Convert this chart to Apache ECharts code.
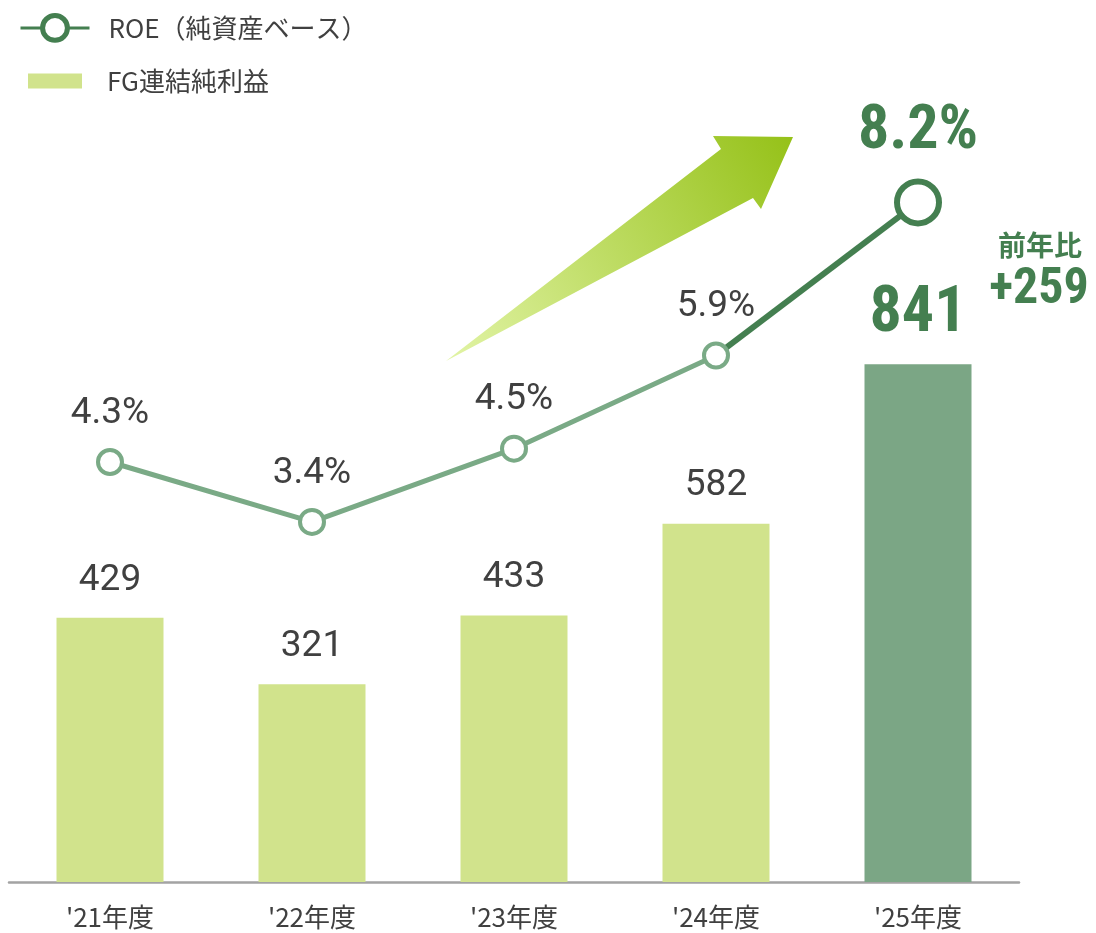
<!DOCTYPE html>
<html>
<head>
<meta charset="utf-8">
<script src="https://cdn.jsdelivr.net/npm/echarts@6/dist/echarts.min.js"></script>
<style>
  html, body { margin: 0; padding: 0; background: #fff; }
  #main { width: 1096px; height: 933px; }
</style>
</head>
<body>
<div id="main"></div>
<script>
let years = ["'21年度", "'22年度", "'23年度", "'24年度", "'25年度"];
let net_income = [429, 321, 433, 582, 841];
let roe = [4.3, 3.4, 4.5, 5.9, 8.2];

let light_bar = '#d1e38c';
let dark_bar = '#7ba685';
let light_line = '#7aaa86';
let dark_line = '#447f50';
let text_gray = '#404040';
let narrow_font = "'Liberation Sans Narrow', 'Roboto Condensed', 'Arial Narrow', Roboto, sans-serif";

function draw_chart(){
    let last = net_income.length - 1;
    let chart_box = echarts.init(document.getElementById('main'));

    let bar_data = net_income.map(function (v, i) {
        if (i !== last) return v;
        return {
            value: v,
            itemStyle: {color: dark_bar},
            label: {color: dark_line, fontSize: 64, fontWeight: 'bold', fontFamily: narrow_font, distance: 17}
        };
    });
    // past years drawn in light green, the last step in dark green
    let roe_past = roe.map(function (v, i) { return i < last ? v : '-'; });
    let roe_now = roe.map(function (v, i) {
        if (i < last - 1) return '-';
        if (i === last - 1) return {value: v, symbol: 'none', label: {show: false}};
        return v;
    });

    let option = {
        animation: false,
        grid: {left: 9, right: 77, top: 20, bottom: 51},
        legend: [
            {
                data: [{name: 'ROE（純資産ベース）', itemStyle: {borderWidth: 5}, lineStyle: {width: 3}}],
                left: 19, top: 13, padding: 0,
                itemWidth: 69, itemHeight: 31,
                selectedMode: false,
                textStyle: {color: text_gray, fontSize: 26, fontFamily: 'Noto Sans CJK JP', padding: [0, 0, 0, 14]}
            },
            {
                data: [{name: 'FG連結純利益', icon: 'rect'}],
                left: 28, top: 68, padding: 0,
                itemWidth: 54, itemHeight: 15,
                selectedMode: false,
                textStyle: {color: text_gray, fontSize: 26, fontFamily: 'Noto Sans CJK JP', padding: [0, 0, 0, 20]}
            }
        ],
        xAxis: {
            type: 'category',
            data: years,
            axisTick: {show: false},
            axisLine: {lineStyle: {color: '#a3a3a3', width: 2.5}},
            axisLabel: {color: text_gray, fontSize: 26, fontFamily: 'Noto Sans CJK JP', margin: 22}
        },
        yAxis: [
            {type: 'value', min: 0, max: 1400, show: false, splitLine: {show: false}},
            {type: 'value', min: -2.01, max: 10.94, show: false, splitLine: {show: false}}
        ],
        graphic: [
            {
                type: 'polygon',
                shape: {points: [[446, 361], [721, 149], [713, 136], [793, 137], [761, 209], [753, 198]]},
                style: {
                    fill: new echarts.graphic.LinearGradient(0, 1, 1, 0, [
                        {offset: 0, color: '#e2f4a6'},
                        {offset: 1, color: '#95c118'}
                    ])
                },
                z: 1
            },
            {
                type: 'text', x: 1040, y: 245,
                style: {text: '前年比', fill: dark_line, font: "bold 28px 'Noto Sans CJK JP'", textAlign: 'center', textVerticalAlign: 'middle'}
            },
            {
                type: 'text', x: 1039, y: 290,
                style: {text: '+' + (net_income[last] - net_income[last - 1]), fill: dark_line, font: "bold 50px " + narrow_font, textAlign: 'center', textVerticalAlign: 'middle'}
            }
        ],
        series: [
            {
                name: 'FG連結純利益',
                type: 'bar',
                barWidth: 107,
                data: bar_data,
                itemStyle: {color: light_bar},
                label: {show: true, position: 'top', distance: 19, color: text_gray, fontSize: 37, fontFamily: 'Roboto'},
                z: 2
            },
            {
                name: 'ROE_past',
                type: 'line',
                yAxisIndex: 1,
                data: roe_past,
                symbol: 'circle',
                symbolSize: 24,
                lineStyle: {color: light_line, width: 5},
                itemStyle: {color: '#fff', borderColor: light_line, borderWidth: 4},
                label: {show: true, position: 'top', distance: 16, formatter: '{c}%', color: text_gray, fontSize: 37, fontFamily: 'Roboto'},
                z: 4
            },
            {
                name: 'ROE（純資産ベース）',
                type: 'line',
                yAxisIndex: 1,
                data: roe_now,
                symbol: 'circle',
                symbolSize: 42,
                lineStyle: {color: dark_line, width: 6},
                itemStyle: {color: '#fff', borderColor: dark_line, borderWidth: 6},
                label: {show: true, position: 'top', distance: 15, formatter: '{c}%', color: dark_line, fontSize: 62, fontWeight: 'bold', fontFamily: narrow_font},
                z: 3
            }
        ]
    };
    chart_box.setOption(option);
    window.onresize = chart_box.resize;
}

draw_chart();
</script>
</body>
</html>
